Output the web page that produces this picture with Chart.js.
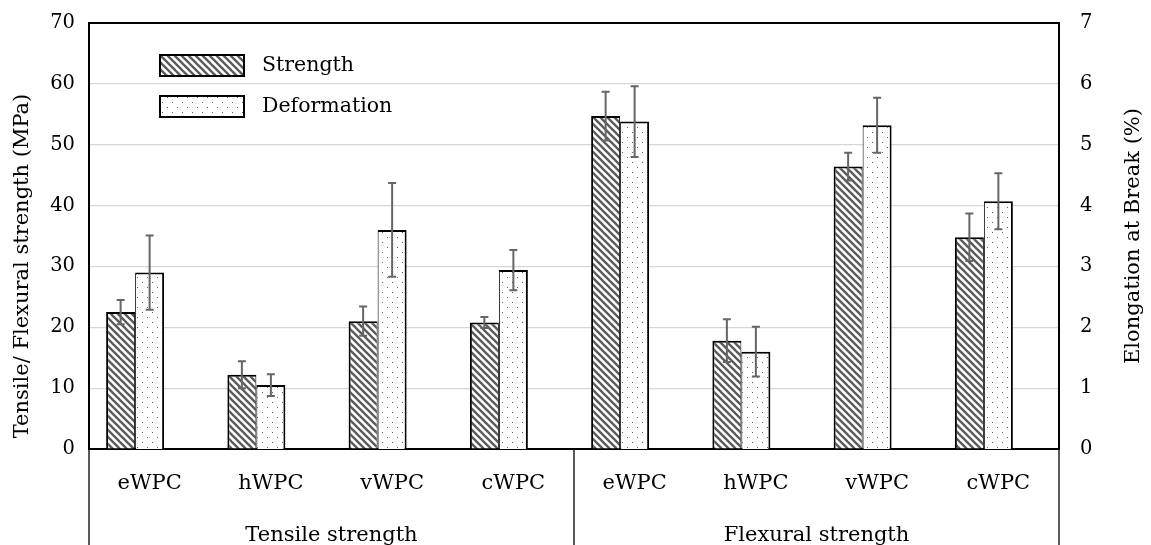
<!DOCTYPE html>
<html>
<head>
<meta charset="utf-8">
<script src="https://cdn.jsdelivr.net/npm/chart.js@4.4.1/dist/chart.umd.min.js"></script>
<style>
  html, body { margin: 0; padding: 0; background: #fff; }
  #wrap { width: 1151px; height: 545px; }
</style>
</head>
<body>
<div id="wrap"><canvas id="chart"></canvas></div>
<script>
// === Data ===
const categories = ['eWPC', 'hWPC', 'vWPC', 'cWPC', 'eWPC', 'hWPC', 'vWPC', 'cWPC'];
const groups = ['Tensile strength', 'Flexural strength'];
const strength = [22.5, 12.2, 21.0, 20.8, 54.7, 17.8, 46.4, 34.8];        // MPa
const strengthErr = [2.0, 2.2, 2.4, 0.9, 4.0, 3.5, 2.3, 3.9];
const deformation = [2.90, 1.05, 3.60, 2.94, 5.38, 1.60, 5.32, 4.07];     // %
const deformationErr = [0.61, 0.18, 0.77, 0.33, 0.58, 0.41, 0.45, 0.46];
const seriesNames = ['Strength', 'Deformation'];
const leftTitle = 'Tensile/ Flexural strength (MPa)';
const rightTitle = 'Elongation at Break (%)';

const FONT = "'DejaVu Serif', serif";
Chart.defaults.font.family = FONT;
Chart.defaults.font.size = 20;
Chart.defaults.color = '#000';

// === Fill patterns ===
function hatchPattern(){
  const c = document.createElement('canvas'); c.width = 7; c.height = 7;
  const g = c.getContext('2d');
  g.fillStyle = '#fff'; g.fillRect(0, 0, 7, 7);
  g.strokeStyle = '#5a5a5a'; g.lineWidth = 2.3;
  g.beginPath();
  g.moveTo(-1, -1); g.lineTo(8, 8);
  g.moveTo(-8, -1); g.lineTo(1, 8);
  g.moveTo(6, -1); g.lineTo(15, 8);
  g.stroke();
  return g.createPattern(c, 'repeat');
}
function dotPattern(){
  const c = document.createElement('canvas'); c.width = 10; c.height = 10;
  const g = c.getContext('2d');
  g.fillStyle = '#fff'; g.fillRect(0, 0, 10, 10);
  g.fillStyle = '#5e5e5e';
  [[2,2],[7,7]].forEach(([x,y]) => g.fillRect(x, y, 1, 1));
  return g.createPattern(c, 'repeat');
}
const HATCH = hatchPattern();
const DOTS = dotPattern();

// === Plugins ===
const errorBars = {
  id: 'errorBars',
  afterDatasetsDraw(chart){
    const ctx = chart.ctx;
    chart.data.datasets.forEach((ds, i) => {
      if(!ds.errors) return;
      const meta = chart.getDatasetMeta(i);
      const sc = chart.scales[ds.yAxisID];
      ctx.save();
      ctx.strokeStyle = '#666'; ctx.lineWidth = 2;
      meta.data.forEach((el, j) => {
        const v = ds.data[j], e = ds.errors[j];
        const y1 = sc.getPixelForValue(v + e), y2 = sc.getPixelForValue(v - e);
        ctx.beginPath();
        ctx.moveTo(el.x, y1); ctx.lineTo(el.x, y2);
        ctx.moveTo(el.x - 4, y1); ctx.lineTo(el.x + 4, y1);
        ctx.moveTo(el.x - 4, y2); ctx.lineTo(el.x + 4, y2);
        ctx.stroke();
      });
      ctx.restore();
    });
  }
};

function vText(ctx, text, x, y){
  ctx.save();
  ctx.translate(x, y);
  ctx.rotate(-Math.PI / 2);
  ctx.fillText(text, 0, 0);
  ctx.restore();
}

const frame = {
  id: 'frame',
  afterDraw(chart){
    const {ctx, chartArea: a, scales} = chart;
    const x = scales.x;
    ctx.save();
    // top border of plot
    ctx.strokeStyle = '#000'; ctx.lineWidth = 2;
    ctx.beginPath(); ctx.moveTo(a.left - 1, a.top); ctx.lineTo(a.right + 1, a.top); ctx.stroke();

    // group boxes under the category axis
    const per = categories.length / groups.length;
    const edges = [a.left];
    for(let g = 1; g < groups.length; g++){
      edges.push((x.getPixelForValue(g*per - 1) + x.getPixelForValue(g*per)) / 2);
    }
    edges.push(a.right);
    ctx.lineWidth = 1.3;
    edges.forEach(px => {
      ctx.beginPath(); ctx.moveTo(px, a.bottom); ctx.lineTo(px, chart.height); ctx.stroke();
    });
    ctx.fillStyle = '#000';
    ctx.font = '21px ' + FONT;
    ctx.textAlign = 'center'; ctx.textBaseline = 'middle';
    groups.forEach((name, g) => ctx.fillText(name, (edges[g] + edges[g+1]) / 2, 536));

    // axis titles, reading bottom to top
    vText(ctx, leftTitle, 23, 266);
    vText(ctx, rightTitle, 1134, 236);
    ctx.restore();

    // legend
    ctx.save();
    ctx.font = '20.5px ' + FONT;
    ctx.textAlign = 'left'; ctx.textBaseline = 'middle';
    chart.data.datasets.slice(0, seriesNames.length).forEach((ds, i) => {
      const y = 55 + i * 41;
      ctx.fillStyle = ds.backgroundColor;
      ctx.fillRect(160, y, 84, 21);
      ctx.strokeStyle = '#000'; ctx.lineWidth = 2;
      ctx.strokeRect(160, y, 84, 21);
      ctx.fillStyle = '#000';
      ctx.fillText(ds.label, 262, y + 11);
    });
    ctx.restore();
  }
};

// keep the tick-label overhang from pushing the plot down
function fixVertical(width){
  return s => { s.width = width; s.paddingTop = 0; s.paddingBottom = 0; };
}

// === Chart ===
new Chart(document.getElementById('chart'), {
  type: 'bar',
  data: {
    labels: categories,
    datasets: [
      {label: seriesNames[0], data: strength, errors: strengthErr, yAxisID: 'y',
       backgroundColor: HATCH, borderColor: '#000', borderWidth: {top: 2, left: 2, right: 1, bottom: 0}},
      {label: seriesNames[1], data: deformation, errors: deformationErr, yAxisID: 'y2',
       backgroundColor: DOTS, borderColor: '#000', borderWidth: {top: 2, left: 1, right: 2, bottom: 0}},
      // empty third slot, as in the source figure's clustered layout
      {label: '', data: categories.map(() => null), yAxisID: 'y'}
    ]
  },
  options: {
    responsive: true, maintainAspectRatio: false, animation: false,
    devicePixelRatio: 1,
    layout: {padding: {top: 23, left: 0, right: 0, bottom: 0}},
    datasets: {bar: {barPercentage: 1, categoryPercentage: 0.7175}},
    plugins: {legend: {display: false}, tooltip: {enabled: false}},
    scales: {
      x: {
        grid: {display: false, drawTicks: false},
        border: {display: true, color: '#000', width: 2},
        ticks: {padding: 22, font: {size: 21}, maxRotation: 0, autoSkip: false},
        afterFit(s){ s.height = 96; s.paddingLeft = 0; s.paddingRight = 0; }
      },
      y: {
        position: 'left', min: 0, max: 70,
        ticks: {stepSize: 10, padding: 14, font: {size: 19.5}},
        grid: {color: '#d6d6d6', lineWidth: 1.2, drawTicks: false},
        border: {display: true, color: '#000', width: 2},
        afterFit: fixVertical(89)
      },
      y2: {
        position: 'right', min: 0, max: 7,
        ticks: {stepSize: 1, padding: 21, font: {size: 19.5}},
        grid: {display: false, drawTicks: false},
        border: {display: true, color: '#000', width: 2},
        afterFit: fixVertical(92)
      }
    }
  },
  plugins: [errorBars, frame]
});
</script>
</body>
</html>
